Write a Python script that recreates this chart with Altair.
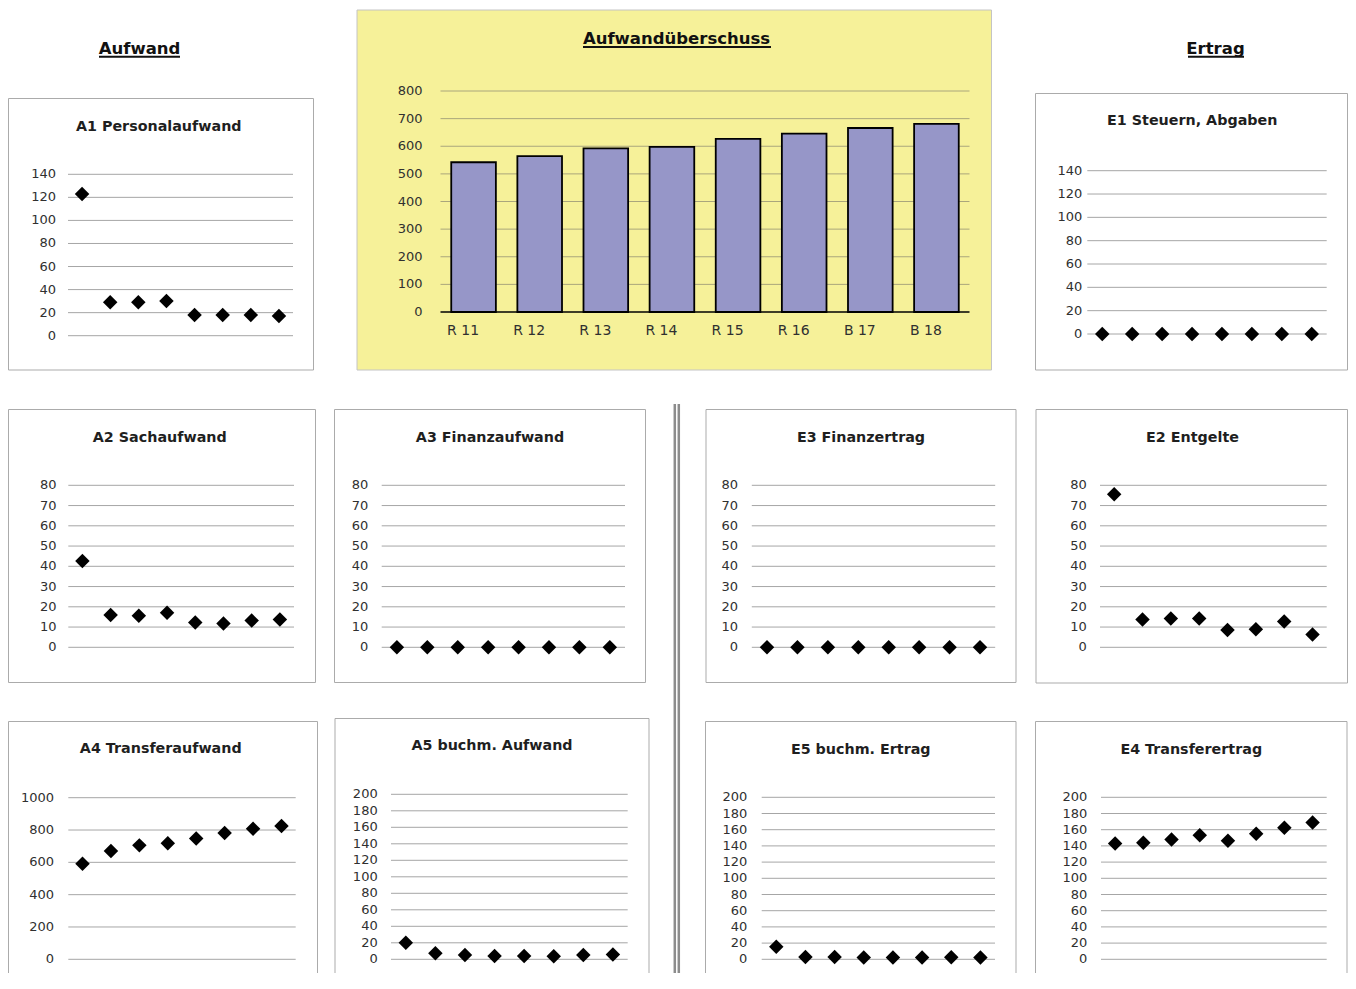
import altair as alt
import pandas as pd

# ---------------- data ----------------
categories = ["R 11", "R 12", "R 13", "R 14", "R 15", "R 16", "B 17", "B 18"]
surplus = [542, 564, 592, 598, 627, 646, 666, 681]

a1_personal = [123, 29, 29, 30, 18, 18, 18, 17]
a2_sach = [42.6, 16.0, 15.6, 17.1, 12.2, 11.7, 13.2, 13.7]
a3_finanz = [0, 0, 0, 0, 0, 0, 0, 0]
a4_transfer = [592, 670, 705, 718, 748, 781, 808, 825]
a5_buchm = [20.2, 7.3, 5.3, 4.0, 4.0, 3.6, 5.3, 5.7]
e1_steuern = [0, 0, 0, 0, 0, 0, 0, 0]
e2_entgelte = [75.6, 13.7, 14.2, 14.2, 8.6, 8.9, 12.7, 6.3]
e3_finanz = [0, 0, 0, 0, 0, 0, 0, 0]
e4_transfer = [143, 144, 148, 153, 146.5, 155, 162.5, 169]
e5_buchm = [15.6, 2.9, 2.9, 2.1, 2.1, 2.1, 2.5, 2.1]

ticks_800 = [0, 100, 200, 300, 400, 500, 600, 700, 800]
ticks_140 = [0, 20, 40, 60, 80, 100, 120, 140]
ticks_80 = [0, 10, 20, 30, 40, 50, 60, 70, 80]
ticks_1000 = [0, 200, 400, 600, 800, 1000]
ticks_200 = [0, 20, 40, 60, 80, 100, 120, 140, 160, 180, 200]

# ---------------- layout ----------------
W, H = 1340, 965
OFF = 8
XMIN, XMAX = OFF + 0.5, OFF + W - 0.5
BOTTOM = 1000
FONT = "DejaVu Sans"
BOX_STROKE = "#ababab"
GRID = "#a6a6a6"
LABEL = "#303030"
TITLE = "#1f1f1f"

one = pd.DataFrame({"k": [0]})


def xdom(gx0, gx1, n=8):
    bw = (gx1 - gx0) / n
    d0 = -0.5 - (gx0 - OFF) / bw
    return [d0, d0 + W / bw]


def ydom(v_a, p_a, v_b, p_b):
    s = (p_a - p_b) / (v_b - v_a)
    pa = p_a - OFF
    return [v_a + (pa - H) / s, v_a + pa / s]


def box(x0, y0, x1, y1, fill="white", stroke=BOX_STROKE):
    x0 = max(x0, XMIN)
    x1 = min(x1, XMAX)
    return alt.Chart(one).mark_rect(fill=fill, stroke=stroke, strokeWidth=1).encode(
        x=alt.value(x0 - OFF), x2=alt.value(x1 - OFF),
        y=alt.value(y0 - OFF), y2=alt.value(y1 - OFF))


def label(text, x, y, size, bold=False, color=TITLE, align="center"):
    return alt.Chart(one).mark_text(
        text=text, font=FONT, fontSize=size, fontWeight="bold" if bold else "normal",
        color=color, align=align, baseline="alphabetic").encode(
        x=alt.value(x - OFF), y=alt.value(y - OFF))


def hline(x0, x1, y, color="black", width=2):
    return alt.Chart(one).mark_rule(color=color, strokeWidth=width).encode(
        x=alt.value(x0 - OFF), x2=alt.value(x1 - OFF), y=alt.value(y - OFF))


def vline(x, y0, y1, color="#8c8c8c", width=2.5):
    return alt.Chart(one).mark_rule(color=color, strokeWidth=width).encode(
        x=alt.value(x - OFF), y=alt.value(y0 - OFF), y2=alt.value(y1 - OFF))


def panel(title, values, ticks, bx, grid, ymap, lab_right, title_y):
    x0, y0, x1, y1 = bx
    gx0, gx1 = grid
    xs = alt.Scale(domain=xdom(gx0, gx1), nice=False, zero=False)
    ys = alt.Scale(domain=ydom(*ymap), nice=False, zero=False)
    tdf = pd.DataFrame({"tick": ticks})
    ddf = pd.DataFrame({"idx": list(range(len(categories))), "cat": categories, "v": values})
    layers = [box(x0, y0, x1, y1)]
    layers.append(alt.Chart(tdf).mark_rule(color=GRID, strokeWidth=1).encode(
        y=alt.Y("tick:Q", scale=ys, axis=None),
        x=alt.value(gx0 - OFF), x2=alt.value(gx1 - OFF)))
    layers.append(alt.Chart(tdf).mark_text(
        align="right", baseline="middle", font=FONT, fontSize=13, color=LABEL).encode(
        y=alt.Y("tick:Q", scale=ys, axis=None),
        x=alt.value(lab_right - OFF),
        text=alt.Text("tick:Q", format="d")))
    layers.append(alt.Chart(ddf).mark_point(
        shape="diamond", filled=True, color="black", size=210, opacity=1).encode(
        x=alt.X("idx:Q", scale=xs, axis=None),
        y=alt.Y("v:Q", scale=ys, axis=None)))
    layers.append(label(title, (x0 + x1) / 2, title_y, 14.3, bold=True))
    return layers


layers = []

# headers
layers.append(label("Aufwand", 139.5, 54.3, 16.5, bold=True, color="#111111"))
layers.append(hline(99, 180, 56.8, color="#111111", width=2))
layers.append(label("Ertrag", 1215.5, 54.3, 16.5, bold=True, color="#111111"))
layers.append(hline(1188, 1244, 56.8, color="#111111", width=2))

# central bar chart
cgx0, cgx1 = 440.5, 969.5
cxs = alt.Scale(domain=xdom(cgx0, cgx1), nice=False, zero=False)
cys = alt.Scale(domain=ydom(0, 312, 800, 91), nice=False, zero=False)
cdf = pd.DataFrame({"idx": list(range(len(categories))), "cat": categories, "v": surplus})
ctdf = pd.DataFrame({"tick": ticks_800})
layers.append(box(357, 10, 991.5, 370, fill="#f6f199", stroke="#c4c4c4"))
layers.append(label("Aufwandüberschuss", 676.5, 44.3, 16.5, bold=True, color="#111111"))
layers.append(hline(583, 771, 47, color="#111111", width=2))
layers.append(alt.Chart(ctdf).transform_filter("datum.tick > 0").mark_rule(
    color="#aaa67c", strokeWidth=1).encode(
    y=alt.Y("tick:Q", scale=cys, axis=None),
    x=alt.value(cgx0 - OFF), x2=alt.value(cgx1 - OFF)))
layers.append(alt.Chart(ctdf).mark_text(
    align="right", baseline="middle", font=FONT, fontSize=13, color=LABEL).encode(
    y=alt.Y("tick:Q", scale=cys, axis=None),
    x=alt.value(422.5 - OFF),
    text=alt.Text("tick:Q", format="d")))
layers.append(alt.Chart(cdf).transform_calculate(
    lo="datum.idx - 0.3375", hi="datum.idx + 0.3375", base="0").mark_rect(
    fill="#9696c8", stroke="black", strokeWidth=1.8).encode(
    x=alt.X("lo:Q", scale=cxs, axis=None),
    x2="hi:Q",
    y=alt.Y("v:Q", scale=cys, axis=None),
    y2="base:Q"))
layers.append(alt.Chart(ctdf).transform_filter("datum.tick == 0").mark_rule(
    color="black", strokeWidth=1.6).encode(
    y=alt.Y("tick:Q", scale=cys, axis=None),
    x=alt.value(cgx0 - OFF), x2=alt.value(cgx1 - OFF)))
layers.append(alt.Chart(cdf).mark_text(
    align="center", baseline="alphabetic", font=FONT, fontSize=14, color=LABEL, dx=-10.5).encode(
    x=alt.X("idx:Q", scale=cxs, axis=None),
    y=alt.value(335 - OFF),
    text="cat:N"))

# small panels
layers += panel("A1 Personalaufwand", a1_personal, ticks_140,
                (4, 98.5, 313.5, 370), (68, 293), (0, 335.7, 140, 174.3), 56, 130.7)
layers += panel("E1 Steuern, Abgaben", e1_steuern, ticks_140,
                (1035.5, 93.5, 1349, 370), (1087.3, 1326.7), (0, 334, 140, 170.7), 1082.3, 125)
layers += panel("A2 Sachaufwand", a2_sach, ticks_80,
                (4, 409.5, 315.5, 682.5), (68.3, 294), (0, 647.3, 80, 485.3), 56.5, 441.5)
layers += panel("E2 Entgelte", e2_entgelte, ticks_80,
                (1036, 409.5, 1349, 683), (1100, 1326.7), (0, 647.3, 80, 485.3), 1086.7, 441.7)
layers += panel("A3 Finanzaufwand", a3_finanz, ticks_80,
                (334.5, 409.5, 645.5, 682.5), (381.7, 625), (0, 647.3, 80, 485.3), 368.3, 441.5)
layers += panel("E3 Finanzertrag", e3_finanz, ticks_80,
                (706, 409.5, 1016, 682.5), (751.8, 995.2), (0, 647.3, 80, 485.3), 738, 441.5)
layers += panel("A4 Transferaufwand", a4_transfer, ticks_1000,
                (4, 721.5, 317.5, BOTTOM), (68.3, 295.7), (0, 959.3, 1000, 797.7), 54, 753.3)
layers += panel("A5 buchm. Aufwand", a5_buchm, ticks_200,
                (335, 718.5, 649, BOTTOM), (391, 627.7), (0, 959.3, 200, 794.3), 377.7, 750)
layers += panel("E5 buchm. Ertrag", e5_buchm, ticks_200,
                (705.5, 721.5, 1016, BOTTOM), (761.7, 995), (0, 959.3, 200, 797.3), 747.3, 753.5)
layers += panel("E4 Transferertrag", e4_transfer, ticks_200,
                (1035.5, 721.5, 1347, BOTTOM), (1101, 1326.7), (0, 959.3, 200, 797.3), 1087.3, 753.5)

# separator double line
layers.append(vline(674.8, 404, BOTTOM))
layers.append(vline(678.8, 404, BOTTOM))

chart = alt.layer(*layers).resolve_scale(
    x="independent", y="independent"
).properties(
    width=W, height=H, padding=0,
    autosize=alt.AutoSizeParams(type="none"),
    background="white",
).configure_view(stroke=None)

chart.save("out.html", embed_options={"renderer": "svg", "actions": False})
